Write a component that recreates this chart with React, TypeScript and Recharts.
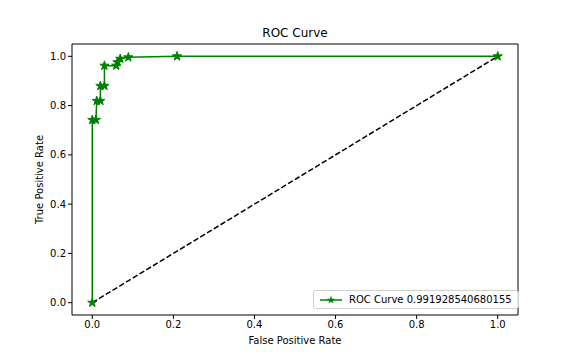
import { ComposedChart, Line, XAxis, YAxis, ReferenceArea, Symbols, Label } from 'recharts';

const fpr = [0, 0, 0.009, 0.011, 0.02, 0.02, 0.03, 0.03, 0.059, 0.062, 0.069, 0.089, 0.209, 1];
const tpr = [0, 0.742, 0.742, 0.819, 0.819, 0.88, 0.88, 0.962, 0.962, 0.976, 0.99, 0.996, 1, 1];
const chanceX = [0, 1];
const ticks = [0, 0.2, 0.4, 0.6, 0.8, 1.0];
const aucLabel = 'ROC Curve 0.991928540680155';

const rocData = fpr.map((x, i) => ({ x, roc: tpr[i] }));
const chanceData = chanceX.map((x) => ({ x, chance: x }));

const font = 'DejaVu Sans, sans-serif';

const Star = (props: any) => {
  const { cx, cy } = props;
  if (cx == null || cy == null) return null;
  return <Symbols cx={cx} cy={cy} type="star" size={26} fill="#008000" stroke="#008000" />;
};

const LegendBox = () => (
  <div
    style={{
      position: 'absolute',
      left: 313,
      top: 290,
      border: '1px solid #d0d0d0',
      borderRadius: 3,
      background: 'rgba(255,255,255,0.8)',
      padding: '3px 6px',
      fontFamily: font,
      fontSize: 10,
      color: '#000',
      display: 'flex',
      alignItems: 'center',
      whiteSpace: 'nowrap',
    }}
  >
    <svg width={22} height={10} style={{ marginRight: 7 }}>
      <line x1={0} y1={5} x2={22} y2={5} stroke="#008000" strokeWidth={1.5} />
      <Symbols cx={11} cy={5} type="star" size={22} fill="#008000" />
    </svg>
    {aucLabel}
  </div>
);

export default function App() {
  return (
    <div style={{ position: 'absolute', left: 0, top: 0, width: 576, height: 360, background: '#fff' }}>
      <div
        style={{
          position: 'absolute',
          top: 26,
          left: 72,
          width: 446,
          textAlign: 'center',
          fontFamily: font,
          fontSize: 12,
          color: '#000',
        }}
      >
        ROC Curve
      </div>
      <ComposedChart width={576} height={360} margin={{ top: 44, right: 58, bottom: 16, left: 22 }}>
        <XAxis
          dataKey="x"
          type="number"
          domain={[-0.05, 1.05]}
          ticks={ticks}
          tickFormatter={(v: number) => v.toFixed(1)}
          allowDuplicatedCategory={false}
          axisLine={false}
          tickLine={{ stroke: '#000' }}
          tickSize={4}
          height={29}
          tick={{ fill: '#000', fontSize: 10, fontFamily: font }}
        >
          <Label value="False Positive Rate" position="insideBottom" offset={0} style={{ fill: '#000', fontSize: 10, fontFamily: font }} />
        </XAxis>
        <YAxis
          type="number"
          domain={[-0.05, 1.05]}
          ticks={ticks}
          tickFormatter={(v: number) => v.toFixed(1)}
          axisLine={false}
          tickLine={{ stroke: '#000' }}
          tickSize={4}
          width={50}
          tick={{ fill: '#000', fontSize: 10, fontFamily: font }}
        >
          <Label value="True Positive Rate" angle={-90} position="insideLeft" offset={17} style={{ textAnchor: 'middle', fill: '#000', fontSize: 10, fontFamily: font }} />
        </YAxis>
        <ReferenceArea x1={-0.05} x2={1.05} y1={-0.05} y2={1.05} stroke="#000" strokeWidth={1} fill="none" fillOpacity={0} />
        <Line
          data={chanceData}
          dataKey="chance"
          stroke="#000"
          strokeWidth={1.5}
          strokeDasharray="5.5 2.4"
          dot={false}
          isAnimationActive={false}
        />
        <Line
          data={rocData}
          dataKey="roc"
          stroke="#008000"
          strokeWidth={1.5}
          dot={<Star />}
          activeDot={false}
          isAnimationActive={false}
        />
      </ComposedChart>
      <LegendBox />
    </div>
  );
}
